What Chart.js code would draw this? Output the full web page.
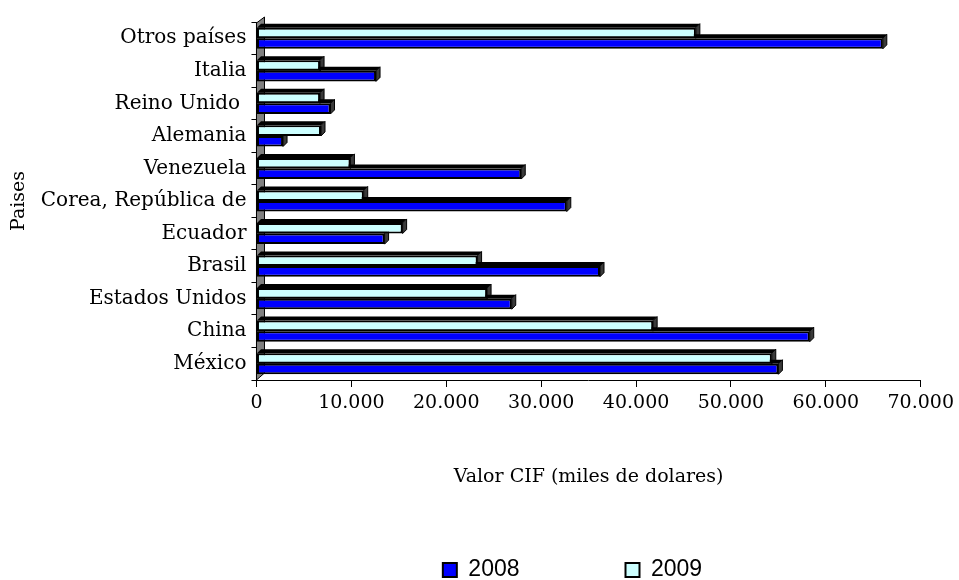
<!DOCTYPE html>
<html>
<head>
<meta charset="utf-8">
<script src="https://cdn.jsdelivr.net/npm/chart.js@4"></script>
<style>
  html, body { margin: 0; padding: 0; background: #fff; overflow: hidden; }
  #wrap { width: 959px; height: 590px; position: relative; }
</style>
</head>
<body>
<div id="wrap"><canvas id="chart"></canvas></div>
<script>
// Data (miles de dolares), top to bottom as in the chart
const countries = ['Otros países', 'Italia', 'Reino Unido ', 'Alemania', 'Venezuela',
    'Corea, República de', 'Ecuador', 'Brasil', 'Estados Unidos', 'China', 'México'];
const values2008 = [66000, 12600, 7800, 2800, 27900, 32700, 13500, 36200, 26900, 58300, 55000];
const values2009 = [46300, 6700, 6700, 6800, 9900, 11300, 15400, 23300, 24300, 41800, 54300];
const xTicks = [0, 10000, 20000, 30000, 40000, 50000, 60000, 70000];

const serif = 'DejaVu Serif';
const LEGEND_PAD = 106;

// Fake 3D: grey back wall + depth faces on every bar
const bar3d = {
    id: 'bar3d',
    beforeDatasetsDraw(chart) {
        const ctx = chart.ctx;
        const a = chart.chartArea;
        const d = 4;
        ctx.save();
        ctx.lineWidth = 1;
        ctx.strokeStyle = '#000';
        ctx.fillStyle = '#808080';
        ctx.beginPath();
        ctx.moveTo(a.left, a.top + 1);
        ctx.lineTo(a.left + 8, a.top - 5);
        ctx.lineTo(a.left + 8, a.bottom - 7);
        ctx.lineTo(a.left, a.bottom);
        ctx.closePath();
        ctx.fill();
        ctx.stroke();

        chart.data.datasets.forEach((ds, i) => {
            const meta = chart.getDatasetMeta(i);
            meta.data.forEach(bar => {
                const { x, y, base, height } = bar.getProps(['x', 'y', 'base', 'height'], true);
                const t = y - height / 2, b = y + height / 2;
                // top face
                ctx.fillStyle = '#000';
                ctx.beginPath();
                ctx.moveTo(base, t);
                ctx.lineTo(base + d, t - d);
                ctx.lineTo(x + d, t - d);
                ctx.lineTo(x, t);
                ctx.closePath();
                ctx.fill();
                // side face
                ctx.fillStyle = '#3a3a3a';
                ctx.beginPath();
                ctx.moveTo(x, t);
                ctx.lineTo(x + d, t - d);
                ctx.lineTo(x + d, b - d);
                ctx.lineTo(x, b);
                ctx.closePath();
                ctx.fill();
                ctx.stroke();
            });
        });
        ctx.restore();
    },
    afterLayout(chart) {
        // the legend reserves little room; its items sit low and right of centre
        const lg = chart.legend;
        lg.left += 94;
        lg.right += 94;
        lg.top = 558.5 - LEGEND_PAD;
    }
};

new Chart(document.getElementById('chart'), {
    type: 'bar',
    data: {
        labels: countries,
        datasets: [
            {
                label: '2009',
                data: values2009,
                backgroundColor: '#CCFFFF',
                borderColor: '#000',
                borderWidth: 2,
                borderSkipped: false,
                categoryPercentage: 0.65,
                barPercentage: 1
            },
            {
                label: '2008',
                data: values2008,
                backgroundColor: '#0000FF',
                borderColor: '#000',
                borderWidth: 2,
                borderSkipped: false,
                categoryPercentage: 0.65,
                barPercentage: 1
            }
        ]
    },
    options: {
        indexAxis: 'y',
        responsive: true,
        maintainAspectRatio: false,
        animation: false,
        layout: { padding: { top: 22, left: 0, right: 2, bottom: 0 } },
        plugins: {
            legend: {
                position: 'bottom',
                reverse: true,
                maxHeight: 45,
                labels: {
                    color: '#000',
                    font: { family: 'Liberation Sans', size: 23 },
                    boxWidth: 14,
                    boxHeight: 14,
                    padding: LEGEND_PAD
                }
            },
            tooltip: { enabled: false }
        },
        scales: {
            x: {
                min: 0,
                max: 70000,
                afterBuildTicks: (scale) => { scale.ticks = xTicks.map(v => ({ value: v })); },
                grid: { drawOnChartArea: false, tickLength: 7, color: '#000' },
                border: { color: '#000', width: 1 },
                ticks: {
                    color: '#000',
                    padding: 5,
                    maxRotation: 0,
                    font: { family: serif, size: 19 },
                    callback: (v) => v.toLocaleString('de-DE')
                },
                title: {
                    display: true,
                    text: 'Valor CIF (miles de dolares)',
                    color: '#000',
                    font: { family: serif, size: 19 },
                    padding: { top: 45.8, bottom: 56.6 }
                }
            },
            y: {
                grid: { drawOnChartArea: false, tickLength: 5, color: '#000', offset: true },
                border: { color: '#000', width: 1 },
                ticks: {
                    color: '#000',
                    padding: 5,
                    font: { family: serif, size: 20 }
                },
                title: {
                    display: true,
                    text: 'Paises',
                    color: '#000',
                    font: { family: serif, size: 19 },
                    padding: { top: 8, bottom: 5 }
                }
            }
        }
    },
    plugins: [bar3d]
});
</script>
</body>
</html>
